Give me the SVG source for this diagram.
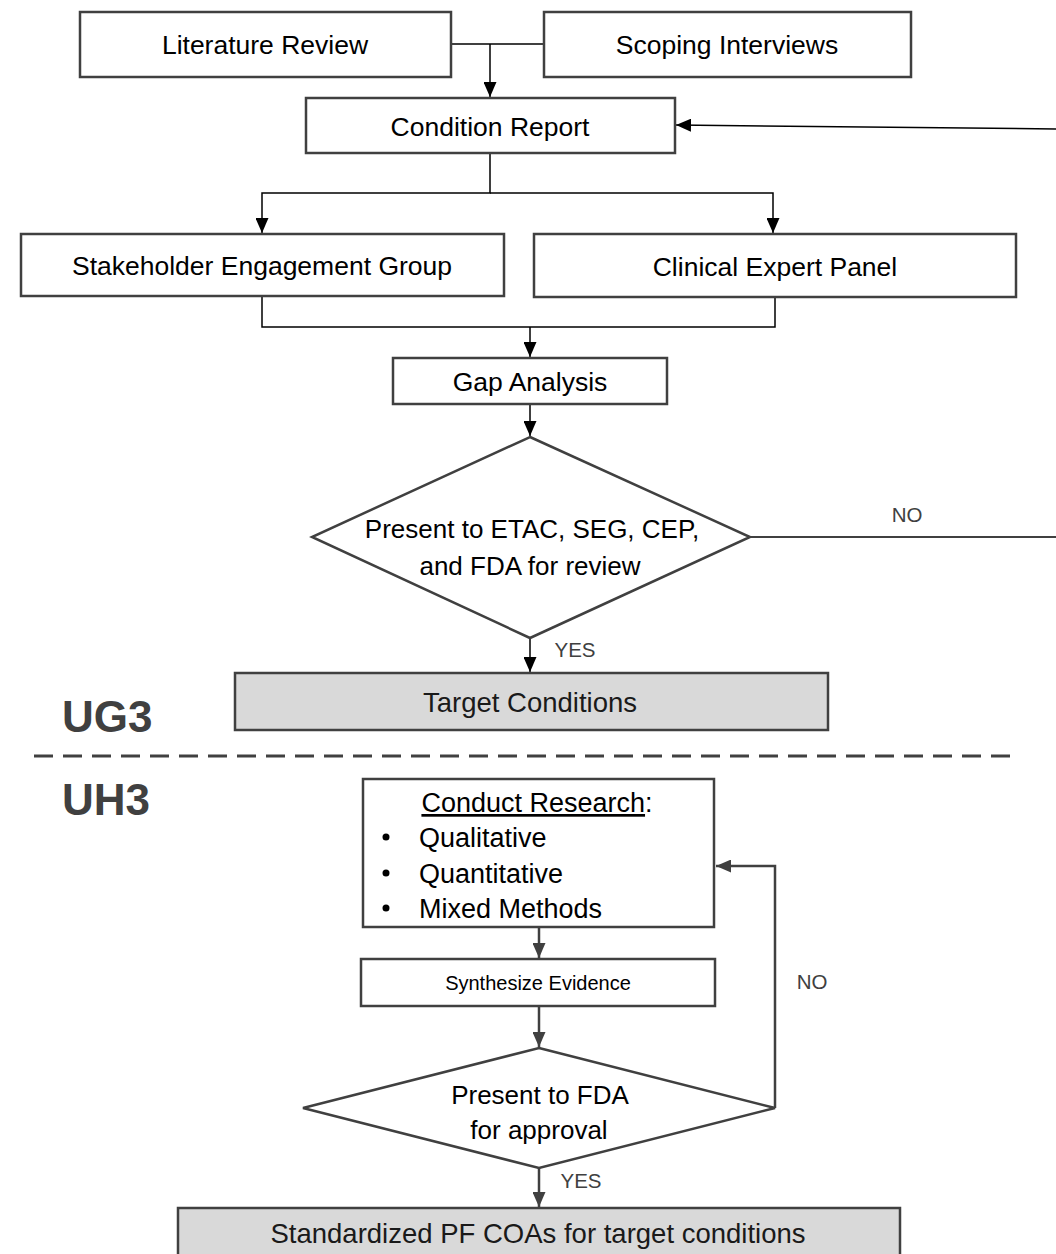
<svg xmlns="http://www.w3.org/2000/svg" width="1056" height="1254" viewBox="0 0 1056 1254">
<defs>
<marker id="ab" viewBox="0 0 10 10" refX="10" refY="5" markerWidth="15" markerHeight="13" orient="auto" markerUnits="userSpaceOnUse" preserveAspectRatio="none"><path d="M0,0 L10,5 L0,10 z" fill="#000"/></marker>
<marker id="ag" viewBox="0 0 10 10" refX="10" refY="5" markerWidth="15" markerHeight="13" orient="auto" markerUnits="userSpaceOnUse" preserveAspectRatio="none"><path d="M0,0 L10,5 L0,10 z" fill="#404040"/></marker>
</defs>
<style>
.box{fill:#fff;stroke:#404040;stroke-width:2.5}
.gbox{fill:#d9d9d9;stroke:#404040;stroke-width:2.5}
.dia{fill:#fff;stroke:#404040;stroke-width:2.5}
.t{font-family:"Liberation Sans",Arial,sans-serif;font-size:26.5px;fill:#000;text-anchor:middle}
.d{font-family:"Liberation Sans",Arial,sans-serif;font-size:26px;fill:#000;text-anchor:middle}
.l{font-family:"Liberation Sans",Arial,sans-serif;font-size:27px;fill:#000}
.s{font-family:"Liberation Sans",Arial,sans-serif;font-size:20px;fill:#000;text-anchor:middle}
.g{font-family:"Liberation Sans",Arial,sans-serif;font-size:27.5px;fill:#1a1a1a;text-anchor:middle}
.lab{font-family:"Liberation Sans",Arial,sans-serif;font-size:20.5px;fill:#404040;text-anchor:middle}
.ph{font-family:"Liberation Sans",Arial,sans-serif;font-size:44px;font-weight:bold;fill:#404040}
.cb{fill:none;stroke:#000;stroke-width:1.5}
.cg{fill:none;stroke:#404040;stroke-width:2.5}
</style>
<rect width="1056" height="1254" fill="#fff"/>

<g id="connectors">
<path class="cb" d="M451,44 H544"/>
<path class="cb" d="M490,44 V97" marker-end="url(#ab)"/>
<path class="cb" d="M1056,129 L676,125" marker-end="url(#ab)"/>
<path class="cb" d="M490,153 V193 H262 V233" marker-end="url(#ab)"/>
<path class="cb" d="M490,193 H773 V233" marker-end="url(#ab)"/>
<path class="cb" d="M262,296 V327 H775 V297"/>
<path class="cb" d="M530,327 V357" marker-end="url(#ab)"/>
<path class="cb" d="M530,404 V436" marker-end="url(#ab)"/>
<path class="cg" d="M750,537 H1056" style="stroke-width:2"/>
<path class="cb" d="M530,638 V672" marker-end="url(#ab)"/>
<path class="cg" d="M539,927 V958" marker-end="url(#ag)"/>
<path class="cg" d="M539,1006 V1047" marker-end="url(#ag)"/>
<path class="cg" d="M775,1108 V866 H716" marker-end="url(#ag)"/>
<path class="cg" d="M539,1168 V1207" marker-end="url(#ag)"/>
</g>

<g id="literature-review"><rect class="box" x="80" y="12" width="371" height="65"/><text class="t" x="265" y="54">Literature Review</text></g>
<g id="scoping-interviews"><rect class="box" x="544" y="12" width="367" height="65"/><text class="t" x="727" y="54">Scoping Interviews</text></g>
<g id="condition-report"><rect class="box" x="306" y="98" width="369" height="55"/><text class="t" x="490" y="136">Condition Report</text></g>
<g id="stakeholder-engagement-group"><rect class="box" x="21" y="234" width="483" height="62"/><text class="t" x="262" y="275">Stakeholder Engagement Group</text></g>
<g id="clinical-expert-panel"><rect class="box" x="534" y="234" width="482" height="63"/><text class="t" x="775" y="276">Clinical Expert Panel</text></g>
<g id="gap-analysis"><rect class="box" x="393" y="358" width="274" height="46"/><text class="t" x="530" y="391">Gap Analysis</text></g>
<g id="review-decision"><polygon class="dia" points="530,437 750,537 530,638 312,537"/>
<text class="d" x="532" y="538">Present to ETAC, SEG, CEP,</text>
<text class="d" x="530" y="575">and FDA for review</text></g>
<text class="lab" x="907" y="522">NO</text>
<text class="lab" x="575" y="657">YES</text>
<g id="target-conditions"><rect class="gbox" x="235" y="673" width="593" height="57"/><text class="g" x="530" y="712">Target Conditions</text></g>

<text class="ph" x="62" y="732">UG3</text>
<line x1="34" y1="756" x2="1018" y2="756" stroke="#404040" stroke-width="3" stroke-dasharray="19 10"/>
<text class="ph" x="62" y="815">UH3</text>

<g id="conduct-research"><rect class="box" x="363" y="779" width="351" height="148"/>
<text class="l" x="537" y="812" style="text-anchor:middle"><tspan text-decoration="underline">Conduct Research</tspan>:</text>
<circle cx="386" cy="837" r="3.5" fill="#000"/>
<circle cx="386" cy="873" r="3.5" fill="#000"/>
<circle cx="386" cy="908" r="3.5" fill="#000"/>
<text class="l" x="419" y="847">Qualitative</text>
<text class="l" x="419" y="883">Quantitative</text>
<text class="l" x="419" y="918">Mixed Methods</text></g>
<g id="synthesize-evidence"><rect class="box" x="361" y="959" width="354" height="47"/><text class="s" x="538" y="990">Synthesize Evidence</text></g>
<g id="approval-decision"><polygon class="dia" points="539,1048 775,1108 539,1168 303,1108"/>
<text class="d" x="540" y="1104">Present to FDA</text>
<text class="d" x="539" y="1139">for approval</text></g>
<text class="lab" x="812" y="989">NO</text>
<text class="lab" x="581" y="1188">YES</text>
<g id="standardized-pf-coas"><rect class="gbox" x="178" y="1208" width="722" height="60"/><text class="g" x="538" y="1243">Standardized PF COAs for target conditions</text></g>
</svg>
